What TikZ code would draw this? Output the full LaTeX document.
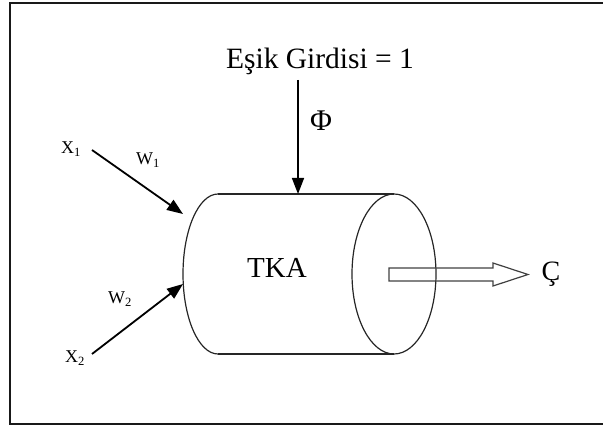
\documentclass[tikz,border=0pt]{standalone}
\usepackage{fontspec}
\setmainfont{Liberation Serif}
\usetikzlibrary{arrows.meta}
\tikzset{
  cyl/.style={draw=black!85, line width=1.2pt},
  inarrow/.style={draw=black, line width=1.8pt, -{Triangle[length=16pt,width=12pt]}},
  lbl/.style={inner sep=0pt, anchor=center},
}
\begin{document}
\begin{tikzpicture}[x=1pt,y=-1pt]
\useasboundingbox (0,0) rectangle (603,430);
% frame
\draw[line width=2pt, draw=black!90] (10,3) rectangle (612,424);
% cylinder
\coordinate (tl) at (218,194);
\coordinate (bl) at (218,354);
\coordinate (tr) at (394,194);
\coordinate (br) at (394,354);
\coordinate (rc) at (394,274);
\draw[cyl] (tl) -- (tr);
\draw[cyl] (bl) -- (br);
\draw[cyl] (tl) arc[start angle=-90, end angle=-270, x radius=35, y radius=80];
\draw[cyl] (rc) ellipse[x radius=42, y radius=80];
% labels
\node[lbl, font=\fontsize{29.5}{32}\selectfont] (esik) at (320,61) {Eşik Girdisi = 1};
\node[lbl, font=\fontsize{30}{32}\selectfont] (phi) at (321,121) {Φ};
\node[lbl, font=\fontsize{29}{30}\selectfont] (tka) at (277,268) {TKA};
\node[lbl, font=\fontsize{18}{20}\selectfont] (x1) at (71,149) {X\textsubscript{1}};
\node[lbl, font=\fontsize{18}{20}\selectfont] (w1) at (148,160) {W\textsubscript{1}};
\node[lbl, font=\fontsize{18}{20}\selectfont] (x2) at (75,358) {X\textsubscript{2}};
\node[lbl, font=\fontsize{18}{20}\selectfont] (w2) at (120,299) {W\textsubscript{2}};
\node[lbl, font=\fontsize{28}{30}\selectfont] (cc) at (551,274) {Ç};
% threshold arrow
\coordinate (phistart) at (298,80);
\coordinate (phiend) at (298,194);
\draw[draw=black, line width=1.5pt, -{Triangle[length=16pt,width=12pt]}] (phistart) -- (phiend);
% input arrows
\coordinate (a1s) at (92,150);
\coordinate (a1e) at (183,214);
\coordinate (a2s) at (92,354);
\coordinate (a2e) at (183,284);
\draw[inarrow] (a1s) -- (a1e);
\draw[inarrow] (a2s) -- (a2e);
% output block arrow
\draw[draw=black!75, line width=1.2pt, line join=miter]
  (389,268) -- (493,268) -- (493,263) -- (528,274.5) -- (493,286) -- (493,281) -- (389,281) -- cycle;
\end{tikzpicture}
\end{document}
